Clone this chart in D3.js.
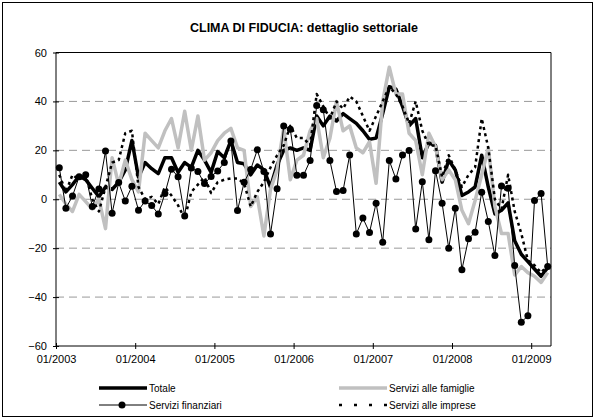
<!DOCTYPE html>
<html lang="it">
<head>
<meta charset="UTF-8">
<title>Clima di fiducia</title>
<style>
    body { margin: 0; background: #fff; }
    svg { font-family: "Liberation Sans", Arial, sans-serif; }
    .grid line { stroke: #999; stroke-dasharray: 8,5; }
    .axis path, .axis line { stroke: #000; }
    .axis text { font-size: 11px; fill: #000; }
    .legend text { font-size: 10px; }
</style>
</head>
<body>
<svg width="595" height="419"></svg>
<script src="https://cdn.jsdelivr.net/npm/d3@7"></script>
<script>
// monthly values, 01/2003 .. 03/2009
const yearTicks = ["01/2003", "01/2004", "01/2005", "01/2006", "01/2007", "01/2008", "01/2009"];
const yTicks = [-60, -40, -20, 0, 20, 40, 60];

const totale = [7, 3, 6, 9.5, 8, 4.5, 1, 5, 4, 7,
    12, 24, 9, 15, 12.5, 10.5, 17, 17, 11, 15,
    13, 20, 16, 11, 19.5, 17, 24, 15, 14.5, 10,
    14, 12, 5, 14, 20, 21, 20, 21, 20, 34,
    30, 34, 32, 35, 33, 31, 28, 24.5, 25, 35,
    46, 45, 38, 30, 33, 17, 23, 22, 7, 16,
    12, 1.5, 3, 5, 18, 5, -6, -4.5, -1.5, -17,
    -22.5, -25.5, -28.5, -31.5, -28];

const famiglie = [2, -2, -5, 2, -1, -4, 0, -12, 17, 6,
    16, 8, 3, 27, 24, 21, 28, 33, 21, 36,
    20, 34, 16, 19, 24, 27, 29, 21, 20, -3,
    1, -15, 4, 12, 29, 8, 16, 18, 28, 33,
    17, 25, 40, 28, 30, 21, 19, 23.5, 6.5, 40,
    54, 43, 43, 27, 24, 10, 27, 21.5, 8, 12,
    8, -4.5, -10, -0.5, 10, 21, -3, -14, -14, -31,
    -27.5, -30, -31.5, -34, -30];

const finanziari = [12.9, -3.7, 1.3, 9.2, 10, -3, 4.2, 19.7, -5.7, 6.8,
    -0.7, 5.3, -4.5, -0.7, -2.6, -6, 2.3, 12.3, 9.2, -6.8,
    12.8, 11.3, 6.4, 9.3, 11.6, 15, 23.8, -4.6, 6.9, 12.2,
    20.2, 11.3, -14.2, 4.3, 30, 28.6, 9.8, 9.8, 15.8, 38.3,
    36.6, 15.8, 3.2, 3.6, 18.1, -14.2, -7.7, -13.6, -1.6, -17.6,
    15.8, 8.3, 18.1, 19.9, -12.2, 7.2, -16.6, 11.7, -1.6, -20,
    -3.7, -28.8, -16.2, -13.5, 2.9, -9.1, -23, 5.4, 4.5, -27.1,
    -50.3, -47.6, -0.5, 2.4, -27.5];

const imprese = [10, 3, 10, 8, 10, 0, -5, 5, 15, 16,
    27, 28, 5, 0, 1, -2, 5, 1.5, -2.5, -8,
    3, 6, 9, 2.5, 7, 8, 8.5, 8.5, 6.5, -3,
    3, 7, 13, 18, 22, 30, 25, 25, 22, 43,
    38, 33, 40, 37, 42, 40, 34, 28, 34, 40,
    46, 43, 38, 31, 40, 28, 22, 22, 9, 18,
    12, 5, 10, 13, 33, 21, 0, -4, 10, -5,
    -14, -25, -27, -30, -27];

const svg = d3.select("svg");
const W = +svg.attr("width"), H = +svg.attr("height");
const plotLeft = 56, plotRight = 551, plotTop = 52.5, plotBottom = 346;

const x = d3.scaleLinear().domain([0, totale.length]).range([plotLeft, plotRight]);
const y = d3.scaleLinear().domain([-60, 60]).range([plotBottom, plotTop]);

// outer frame
svg.append("rect")
    .attr("x", 2.5).attr("y", 2.5)
    .attr("width", W - 5).attr("height", H - 5)
    .attr("fill", "none").attr("stroke", "#000");

svg.append("text")
    .attr("x", 304).attr("y", 32)
    .attr("text-anchor", "middle")
    .style("font-size", "12.5px").style("font-weight", "bold")
    .text("CLIMA DI FIDUCIA: dettaglio settoriale");

// gridlines
svg.append("g").attr("class", "grid")
    .selectAll("line")
    .data(yTicks.filter(d => d > -60 && d < 60))
    .enter().append("line")
    .attr("x1", plotLeft).attr("x2", plotRight)
    .attr("y1", d => y(d)).attr("y2", d => y(d));

// plot border top/right
svg.append("path")
    .attr("d", `M${plotLeft},${plotTop}H${plotRight}V${plotBottom}`)
    .attr("fill", "none").attr("stroke", "#000");

svg.append("g").attr("class", "axis")
    .attr("transform", `translate(${plotLeft},0)`)
    .call(d3.axisLeft(y).tickValues(yTicks).tickSize(3).tickPadding(6))
    .call(g => g.select(".domain").remove())
    .call(g => g.selectAll(".tick line").attr("x2", 3).attr("x1", -3));
svg.append("line").attr("x1", plotLeft).attr("x2", plotLeft).attr("y1", plotTop).attr("y2", plotBottom).attr("stroke", "#000");

svg.append("g").attr("class", "axis")
    .attr("transform", `translate(0,${plotBottom})`)
    .call(d3.axisBottom(x).tickValues(yearTicks.map((d, i) => i * 12))
        .tickFormat((d, i) => yearTicks[i]).tickSize(3).tickPadding(6))
    .call(g => g.select(".domain").remove())
    .call(g => g.selectAll(".tick line").attr("y1", -3).attr("y2", 3));
svg.append("line").attr("x1", plotLeft).attr("x2", plotRight).attr("y1", plotBottom).attr("y2", plotBottom).attr("stroke", "#000");

const line = d3.line().x((d, i) => x(i + 0.5)).y(d => y(d));

const series = [
    { name: "Totale", values: totale, color: "#000", width: 3.5, dash: null, dots: false },
    { name: "Servizi alle famiglie", values: famiglie, color: "#c0c0c0", width: 3.5, dash: null, dots: false },
    { name: "Servizi finanziari", values: finanziari, color: "#000", width: 1, dash: null, dots: true },
    { name: "Servizi alle imprese", values: imprese, color: "#000", width: 2.5, dash: "3,3.5", dots: false }
];

series.forEach(s => {
    svg.append("path")
        .datum(s.values)
        .attr("d", line)
        .attr("fill", "none")
        .attr("stroke", s.color)
        .attr("stroke-width", s.width)
        .attr("stroke-dasharray", s.dash)
        .attr("stroke-linejoin", "round");
    if (s.dots) {
        svg.append("g").selectAll("circle")
            .data(s.values).enter().append("circle")
            .attr("cx", (d, i) => x(i + 0.5))
            .attr("cy", d => y(d))
            .attr("r", 3.5)
            .attr("fill", "#000");
    }
});

// legend
const legendPos = [[99, 388], [339, 388], [99, 405], [339, 405]];
const legend = svg.append("g").attr("class", "legend");
series.forEach((s, k) => {
    const [lx, ly] = legendPos[k];
    legend.append("line")
        .attr("x1", lx).attr("x2", lx + 48)
        .attr("y1", ly).attr("y2", ly)
        .attr("stroke", s.color)
        .attr("stroke-width", s.dots ? 1 : s.width)
        .attr("stroke-dasharray", s.dash ? "3,12" : null);
    if (s.dots) {
        legend.append("circle").attr("cx", lx + 23).attr("cy", ly).attr("r", 3.5).attr("fill", "#000");
    }
    legend.append("text")
        .attr("x", lx + 50).attr("y", ly + 3.5)
        .text(s.name);
});
</script>
</body>
</html>
